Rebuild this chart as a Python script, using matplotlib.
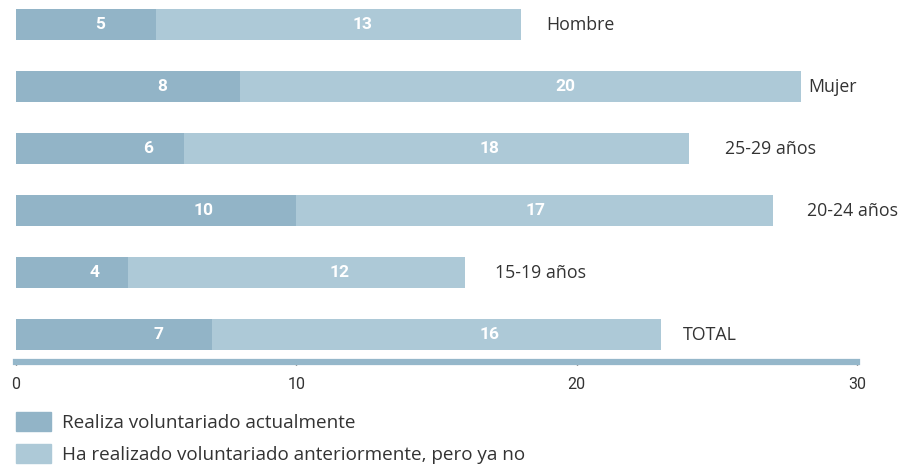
import numpy as np
import matplotlib.pyplot as plt
from matplotlib.patches import Patch

#======data=========#
categories = ["Hombre", "Mujer", "25-29 años", "20-24 años", "15-19 años", "TOTAL"]
actual = [5, 8, 6, 10, 4, 7]
previous = [13, 20, 18, 17, 12, 16]

# where the numbers and names sit (data units along x)
actual_label_x = [3.0, 5.2, 4.7, 6.7, 2.8, 5.1]
previous_label_x = [12.35, 19.6, 16.9, 18.55, 11.55, 16.9]
name_x = [18.9, 28.25, 25.3, 28.2, 17.1, 23.8]

ticks = [0, 10, 20, 30]
legend_labels = ["Realiza voluntariado actualmente",
                 "Ha realizado voluntariado anteriormente, pero ya no"]

c_dark = '#92b4c7'
c_light = '#adc9d7'
c_axis = '#95b7ca'
c_text = '#333333'

plt.rcParams['font.family'] = ['Open Sans', 'DejaVu Sans']

fig = plt.figure(figsize=(9.07, 4.65), dpi=100)
ax = fig.add_axes([16/907, 1-362/465, 841/907, 362/465])

y = np.arange(len(categories))
ax.barh(y, actual, height=0.5, color=c_dark)
ax.barh(y, previous, left=actual, height=0.5, color=c_light)

for i in range(len(categories)):
    ax.text(actual_label_x[i], y[i], str(actual[i]), color='white', fontsize=12.5,
            fontweight='bold', family='Roboto', ha='center', va='center')
    ax.text(previous_label_x[i], y[i], str(previous[i]), color='white', fontsize=12.5,
            fontweight='bold', family='Roboto', ha='center', va='center')
    ax.text(name_x[i], y[i], categories[i], color=c_text, fontsize=12.8,
            ha='left', va='center')

ax.set_xlim(0, 30)
ax.set_ylim((362-24.5)/62, -24.5/62)

for s in ['top', 'right', 'left']:
    ax.spines[s].set_visible(False)
ax.spines['bottom'].set_color(c_axis)
ax.spines['bottom'].set_linewidth(4.5)
ax.set_yticks([])
ax.set_xticks(ticks)
ax.set_xticklabels([str(t) for t in ticks], family='Roboto')
ax.tick_params(axis='x', length=2, width=1, color='#333333', labelsize=11.5,
               labelcolor=c_text, pad=9)

handles = [Patch(color=c_dark), Patch(color=c_light)]
fig.legend(handles, legend_labels, loc='upper left', bbox_to_anchor=(16/907, 1-412/465),
           frameon=False, fontsize=13.6, handlelength=1.85, handleheight=1.2,
           handletextpad=0.6, labelspacing=0.62, borderpad=0, borderaxespad=0,
           labelcolor=c_text)

plt.savefig("out.png", dpi=100)
